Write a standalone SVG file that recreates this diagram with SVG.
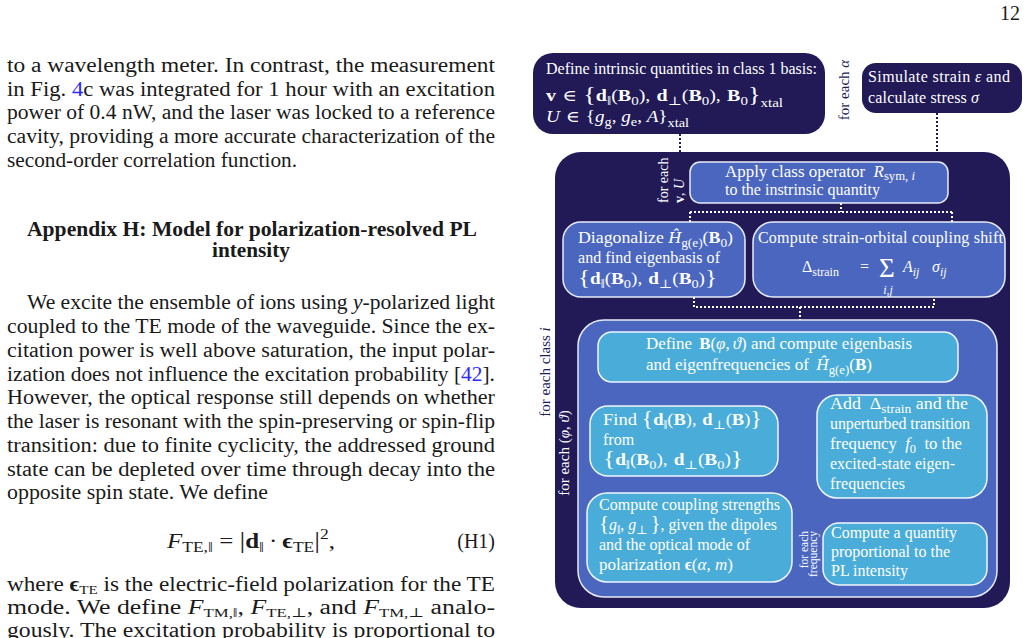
<svg xmlns="http://www.w3.org/2000/svg" width="1030" height="638" viewBox="0 0 1030 638">
<style>
.pg{font-family:"Liberation Serif","DejaVu Serif",serif;font-size:20px;fill:#1a1a1a}
.hd{font-weight:bold}
.lk{fill:#2a2aff}
.t{font-family:"Liberation Serif","DejaVu Serif",serif;font-size:16px;fill:#ffffff}
.nv{fill:#211a57}
.i{font-style:italic}
.b{font-weight:bold}
.s{font-size:12px}
.ps{font-size:14px}
.pss{font-size:13px}
.br{font-size:21px}
.dark{fill:#211a57}
.mid{fill:#4a66be;stroke:#e8ebf7;stroke-width:1.5}
.lt{fill:#4aacd9;stroke:#f2f6fb;stroke-width:1.5}
.cw{fill:none;stroke:#ffffff;stroke-width:2;stroke-dasharray:2 2}
.cn{fill:none;stroke:#211a57;stroke-width:2;stroke-dasharray:2 2}
</style>

<g id="page-text">
<text class="pg" x="1020" y="20" text-anchor="end">12</text>
<text class="pg" x="7" y="72" textLength="488" lengthAdjust="spacingAndGlyphs">to a wavelength meter.  In contrast, the measurement</text>
<text class="pg" x="7" y="96" textLength="488" lengthAdjust="spacingAndGlyphs">in Fig. <tspan class="lk">4</tspan>c was integrated for 1 hour with an excitation</text>
<text class="pg" x="7" y="119" textLength="488" lengthAdjust="spacingAndGlyphs">power of 0.4 nW, and the laser was locked to a reference</text>
<text class="pg" x="7" y="143" textLength="488" lengthAdjust="spacingAndGlyphs">cavity, providing a more accurate characterization of the</text>
<text class="pg" x="7" y="167" textLength="290" lengthAdjust="spacingAndGlyphs">second-order correlation function.</text>
<text class="pg hd" x="27" y="236" textLength="450" lengthAdjust="spacingAndGlyphs">Appendix H: Model for polarization-resolved PL</text>
<text class="pg hd" x="212" y="257" textLength="78" lengthAdjust="spacingAndGlyphs">intensity</text>
<text class="pg" x="27" y="309" textLength="468" lengthAdjust="spacingAndGlyphs">We excite the ensemble of ions using <tspan class="i">y</tspan>-polarized light</text>
<text class="pg" x="7" y="333" textLength="488" lengthAdjust="spacingAndGlyphs">coupled to the TE mode of the waveguide. Since the ex-</text>
<text class="pg" x="7" y="357" textLength="488" lengthAdjust="spacingAndGlyphs">citation power is well above saturation, the input polar-</text>
<text class="pg" x="7" y="381" textLength="488" lengthAdjust="spacingAndGlyphs">ization does not influence the excitation probability [<tspan class="lk">42</tspan>].</text>
<text class="pg" x="7" y="404" textLength="488" lengthAdjust="spacingAndGlyphs">However, the optical response still depends on whether</text>
<text class="pg" x="7" y="428" textLength="488" lengthAdjust="spacingAndGlyphs">the laser is resonant with the spin-preserving or spin-flip</text>
<text class="pg" x="7" y="452" textLength="488" lengthAdjust="spacingAndGlyphs">transition: due to finite cyclicity, the addressed ground</text>
<text class="pg" x="7" y="476" textLength="488" lengthAdjust="spacingAndGlyphs">state can be depleted over time through decay into the</text>
<text class="pg" x="7" y="499" textLength="261" lengthAdjust="spacingAndGlyphs">opposite spin state. We define</text>
<text class="pg" x="167" y="548" textLength="168" lengthAdjust="spacingAndGlyphs"><tspan class="i">F</tspan><tspan class="ps" dy="4">TE,‖</tspan><tspan dy="-4" dx="5">=</tspan><tspan dx="5" style="font-size:23px">|</tspan><tspan class="b">d</tspan><tspan class="ps" dy="4">‖</tspan><tspan dy="-4" dx="4">·</tspan><tspan class="b" dx="4">ϵ</tspan><tspan class="ps" dy="4">TE</tspan><tspan dy="-4" style="font-size:23px">|</tspan><tspan class="ps" dy="-9">2</tspan><tspan dy="9">,</tspan></text>
<text class="pg" x="495" y="548" text-anchor="end">(H1)</text>
<text class="pg" x="7" y="591" textLength="488" lengthAdjust="spacingAndGlyphs">where <tspan class="b">ϵ</tspan><tspan class="pss" dy="3">TE</tspan><tspan dy="-3"> is the electric-field polarization for the TE</tspan></text>
<text class="pg" x="7" y="614" textLength="488" lengthAdjust="spacingAndGlyphs">mode.   We define <tspan class="i">F</tspan><tspan class="pss" dy="3">TM,‖</tspan><tspan dy="-3">, </tspan><tspan class="i">F</tspan><tspan class="pss" dy="3">TE,⊥</tspan><tspan dy="-3">, and </tspan><tspan class="i">F</tspan><tspan class="pss" dy="3">TM,⊥</tspan><tspan dy="-3"> analo-</tspan></text>
<text class="pg" x="7" y="637" textLength="488" lengthAdjust="spacingAndGlyphs">gously.  The excitation probability is proportional to</text>
</g>

<g id="outer-class-loop">
<rect class="dark" x="555" y="152" width="455" height="456" rx="26"/>
</g>

<g id="connectors">
<path class="cn" d="M680,134 V152 M937,113 V152"/>
<path class="cw" d="M841,203 V212 M690,212 H952 M690,212 V222 M952,212 V222"/>
<path class="cw" d="M694,297 V307 H934 V297 M800,307 V320"/>
<path class="cw" d="M687,382 V406 M912,382 V395"/>
<path class="cw" d="M687,476 V493"/>
<path class="cw" d="M792,509 H913 M913,498 V509 M890,509 V523"/>
</g>

<g id="define-intrinsic">
<rect class="dark" x="533" y="53" width="292" height="81" rx="20"/>
<text class="t" x="546" y="74" textLength="271">Define intrinsic quantities in class 1 basis:</text>
<text class="t" x="546" y="101" textLength="237" lengthAdjust="spacingAndGlyphs"><tspan class="b">v</tspan><tspan dx="5">∈</tspan><tspan class="br" dx="5">{</tspan><tspan class="b">d</tspan><tspan class="s" dy="4">‖</tspan><tspan dy="-4">(</tspan><tspan class="b">B</tspan><tspan class="s" dy="4">0</tspan><tspan dy="-4">),</tspan><tspan class="b" dx="5">d</tspan><tspan class="s" dy="4">⊥</tspan><tspan dy="-4">(</tspan><tspan class="b">B</tspan><tspan class="s" dy="4">0</tspan><tspan dy="-4">),</tspan><tspan class="b" dx="5">B</tspan><tspan class="s" dy="4">0</tspan><tspan class="br" dy="-4">}</tspan><tspan class="s" dy="6">xtal</tspan></text>
<text class="t" x="546" y="122" textLength="143" lengthAdjust="spacingAndGlyphs"><tspan class="i">U</tspan><tspan dx="5">∈</tspan><tspan dx="5">{</tspan><tspan class="i">g</tspan><tspan class="s" dy="4">g</tspan><tspan dy="-4">,</tspan><tspan class="i" dx="4">g</tspan><tspan class="s" dy="4">e</tspan><tspan dy="-4">,</tspan><tspan class="i" dx="4">A</tspan>}<tspan class="s" dy="5">xtal</tspan></text>
</g>

<g id="simulate-strain">
<rect class="dark" x="862" y="63" width="160" height="50" rx="14"/>
<text class="t" x="868" y="82" textLength="142">Simulate strain <tspan class="i">ε</tspan> and</text>
<text class="t" x="868" y="103" textLength="111">calculate stress <tspan class="i">σ</tspan></text>
<text class="t nv" style="font-size:15px" transform="translate(849,90) rotate(-90)" text-anchor="middle">for each <tspan class="i">α</tspan></text>
</g>

<g id="label-class">
<text class="t nv" style="font-size:15px" transform="translate(550,372) rotate(-90)" text-anchor="middle">for each class <tspan class="i">i</tspan></text>
</g>

<g id="apply-operator">
<rect class="mid" x="690" y="162" width="258" height="41" rx="10"/>
<text class="t" x="725" y="177" textLength="190" lengthAdjust="spacingAndGlyphs">Apply class operator <tspan class="i" dx="4">R</tspan><tspan class="s" dy="3">sym,</tspan><tspan class="s i" dx="3">i</tspan></text>
<text class="t" x="725" y="195" textLength="155">to the instrinsic quantity</text>
<text class="t" style="font-size:14px" transform="translate(668,203) rotate(-90)">for each</text>
<text class="t" style="font-size:14px" transform="translate(684,203) rotate(-90)"><tspan class="b">v</tspan>, <tspan class="i">U</tspan></text>
</g>

<g id="diagonalize">
<rect class="mid" x="563" y="222" width="182" height="75" rx="18"/>
<text class="t" x="578" y="243" textLength="155" lengthAdjust="spacingAndGlyphs">Diagonalize <tspan class="i">Ĥ</tspan><tspan class="s" dy="4">g(e)</tspan><tspan dy="-4">(</tspan><tspan class="b">B</tspan><tspan class="s" dy="4">0</tspan><tspan dy="-4">)</tspan></text>
<text class="t" x="578" y="263" textLength="142">and find eigenbasis of</text>
<text class="t" x="578" y="284" textLength="139" lengthAdjust="spacingAndGlyphs"><tspan class="br">{</tspan><tspan class="b">d</tspan><tspan class="s" dy="4">‖</tspan><tspan dy="-4">(</tspan><tspan class="b">B</tspan><tspan class="s" dy="4">0</tspan><tspan dy="-4">),</tspan><tspan class="b" dx="5">d</tspan><tspan class="s" dy="4">⊥</tspan><tspan dy="-4">(</tspan><tspan class="b">B</tspan><tspan class="s" dy="4">0</tspan><tspan dy="-4">)</tspan><tspan class="br">}</tspan></text>
</g>

<g id="strain-shift">
<rect class="mid" x="753" y="222" width="252" height="75" rx="20"/>
<text class="t" x="758" y="243" textLength="245">Compute strain-orbital coupling shift</text>
<text class="t" x="802" y="272">Δ<tspan class="s" dy="4">strain</tspan></text>
<text class="t" x="860" y="272">=</text>
<text class="t" style="font-size:27px" x="879" y="277">Σ</text>
<text class="t i" x="903" y="272">A<tspan class="s" dy="4">ij</tspan></text>
<text class="t i" x="932" y="272">σ<tspan class="s" dy="4">ij</tspan></text>
<text class="t s i" x="888" y="294" text-anchor="middle">i,j</text>
</g>

<g id="field-loop">
<rect class="mid" x="578" y="320" width="419" height="277" rx="26"/>
<text class="t" style="font-size:15px" transform="translate(569,453) rotate(-90)" text-anchor="middle">for each (<tspan class="i">φ</tspan>, <tspan class="i">ϑ</tspan>)</text>
</g>

<g id="define-field">
<rect class="lt" x="598" y="332" width="360" height="50" rx="14"/>
<text class="t" x="646" y="349" textLength="266" lengthAdjust="spacingAndGlyphs">Define <tspan class="b" dx="3">B</tspan>(<tspan class="i">φ</tspan>,<tspan class="i" dx="3">ϑ</tspan>) and compute eigenbasis</text>
<text class="t" x="646" y="370" textLength="226" lengthAdjust="spacingAndGlyphs">and eigenfrequencies of <tspan class="i" dx="3">Ĥ</tspan><tspan class="s" dy="4">g(e)</tspan><tspan dy="-4">(</tspan><tspan class="b">B</tspan>)</text>
</g>

<g id="find-dipoles">
<rect class="lt" x="590" y="406" width="188" height="70" rx="18"/>
<text class="t" x="603" y="425" textLength="159" lengthAdjust="spacingAndGlyphs">Find <tspan class="br">{</tspan><tspan class="b">d</tspan><tspan class="s" dy="4">‖</tspan><tspan dy="-4">(</tspan><tspan class="b">B</tspan>),<tspan class="b" dx="5">d</tspan><tspan class="s" dy="4">⊥</tspan><tspan dy="-4">(</tspan><tspan class="b">B</tspan>)<tspan class="br">}</tspan></text>
<text class="t" x="603" y="445">from</text>
<text class="t" x="603" y="465" textLength="140" lengthAdjust="spacingAndGlyphs"><tspan class="br">{</tspan><tspan class="b">d</tspan><tspan class="s" dy="4">‖</tspan><tspan dy="-4">(</tspan><tspan class="b">B</tspan><tspan class="s" dy="4">0</tspan><tspan dy="-4">),</tspan><tspan class="b" dx="5">d</tspan><tspan class="s" dy="4">⊥</tspan><tspan dy="-4">(</tspan><tspan class="b">B</tspan><tspan class="s" dy="4">0</tspan><tspan dy="-4">)</tspan><tspan class="br">}</tspan></text>
</g>

<g id="add-strain">
<rect class="lt" x="817" y="395" width="170" height="103" rx="20"/>
<text class="t" x="830" y="409" textLength="138" lengthAdjust="spacingAndGlyphs">Add <tspan dx="4">Δ</tspan><tspan class="s" dy="4">strain</tspan><tspan dy="-4"> and the</tspan></text>
<text class="t" x="830" y="429" textLength="140">unperturbed transition</text>
<text class="t" x="830" y="449" textLength="132" lengthAdjust="spacingAndGlyphs">frequency <tspan class="i" dx="4">f</tspan><tspan class="s" dy="4">0</tspan><tspan dy="-4" dx="4"> to the</tspan></text>
<text class="t" x="830" y="469" textLength="125">excited-state eigen-</text>
<text class="t" x="830" y="489" textLength="75">frequencies</text>
</g>

<g id="coupling-strengths">
<rect class="lt" x="587" y="493" width="205" height="89" rx="20"/>
<text class="t" x="599" y="510" textLength="181">Compute coupling strengths</text>
<text class="t" x="599" y="530" textLength="178" lengthAdjust="spacingAndGlyphs"><tspan class="br">{</tspan><tspan class="i">g</tspan><tspan class="s" dy="4">‖</tspan><tspan dy="-4">,</tspan><tspan class="i" dx="4">g</tspan><tspan class="s" dy="4">⊥</tspan><tspan class="br" dy="-4" dx="3">}</tspan>, given the dipoles</text>
<text class="t" x="599" y="550" textLength="151">and the optical mode of</text>
<text class="t" x="599" y="570" textLength="134" lengthAdjust="spacingAndGlyphs">polarization <tspan class="b">ϵ</tspan>(<tspan class="i">α</tspan>,<tspan class="i" dx="4">m</tspan>)</text>
</g>

<g id="pl-intensity">
<rect class="lt" x="823" y="523" width="164" height="62" rx="16"/>
<text class="t" x="831" y="538" textLength="126">Compute a quantity</text>
<text class="t" x="831" y="557" textLength="119">proportional to the</text>
<text class="t" x="831" y="576" textLength="77">PL intensity</text>
<text class="t" style="font-size:11.5px" transform="translate(808,531) rotate(-90)" text-anchor="end">for each</text>
<text class="t" style="font-size:11.5px" transform="translate(817,531) rotate(-90)" text-anchor="end">frequency</text>
</g>
</svg>
